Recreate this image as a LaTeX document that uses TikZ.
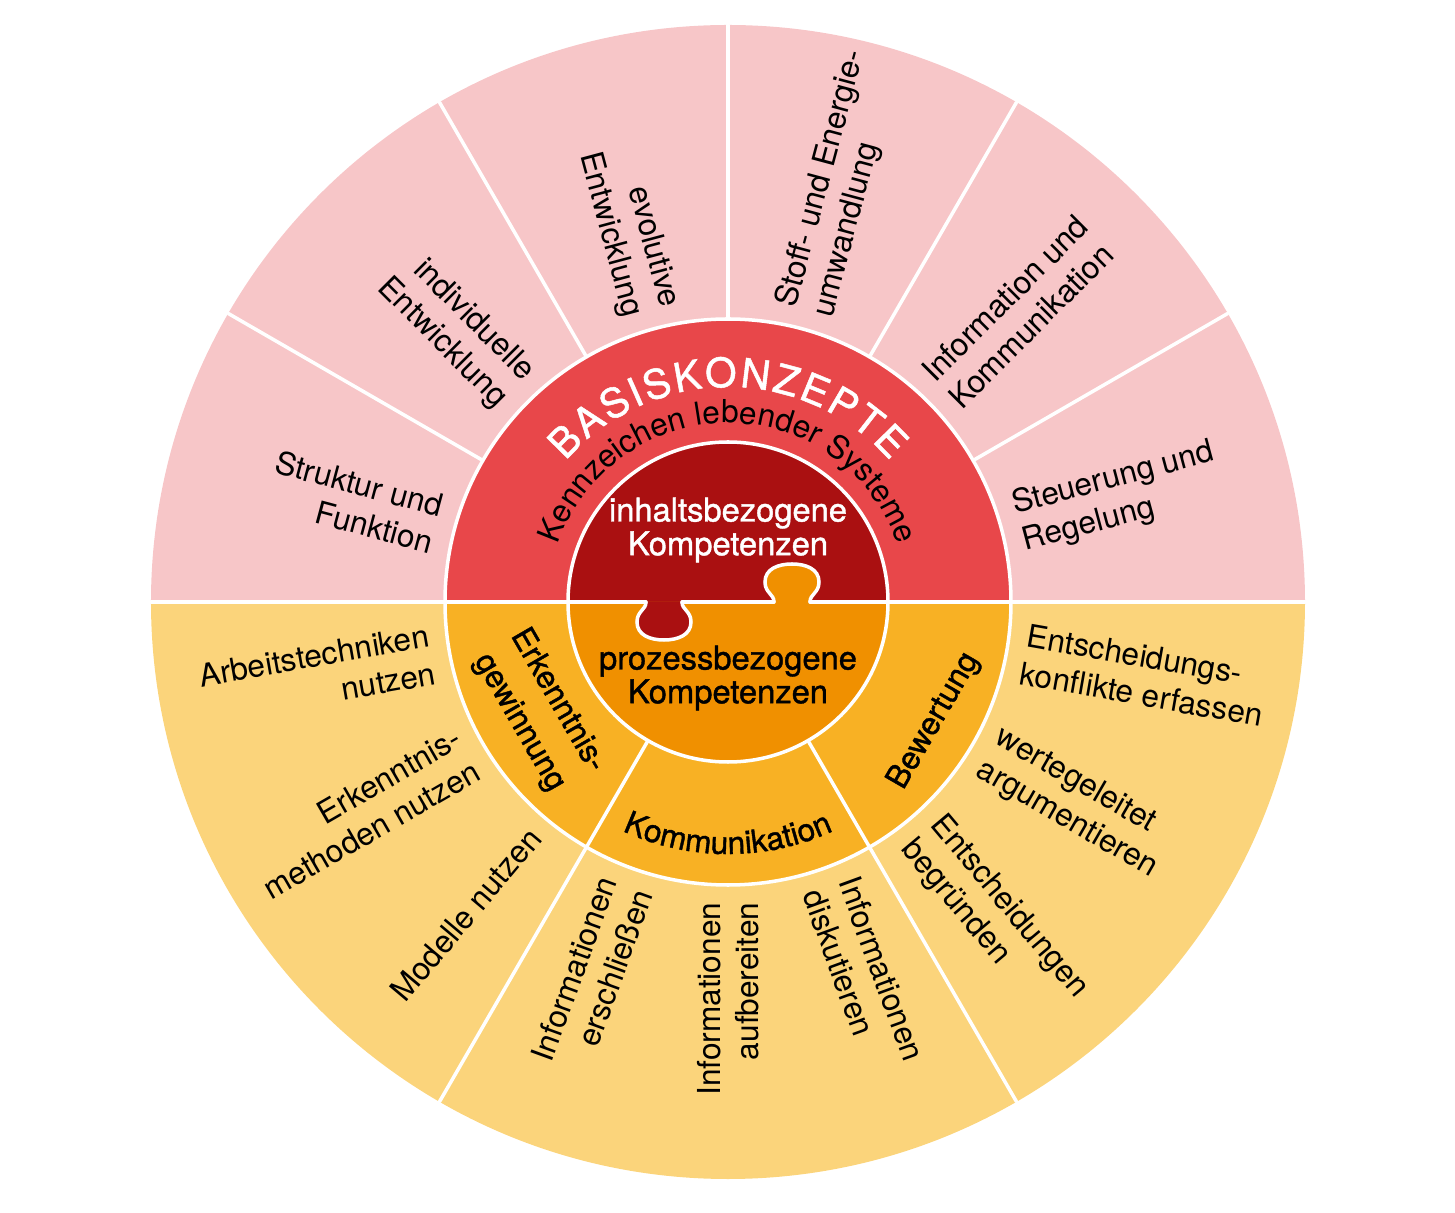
\documentclass[tikz,border=0pt]{standalone}
\usepackage{fontspec}
\setmainfont{TeX Gyre Heros}
\newfontfamily\medfont[FakeBold=1.2]{TeX Gyre Heros}
\usetikzlibrary{decorations.text}

\definecolor{outerred}{HTML}{F7C6C8}
\definecolor{midred}{HTML}{E8474A}
\definecolor{innerred}{HTML}{AA1011}
\definecolor{outeryel}{HTML}{FBD47B}
\definecolor{midyel}{HTML}{F8B124}
\definecolor{inneryel}{HTML}{F09000}

% puzzle tab, pointing down, centred at the origin
\newcommand{\knob}{(-0.18,0) .. controls (-0.18,-0.08) and (-0.27,-0.09) .. (-0.27,-0.2) .. controls (-0.27,-0.33) and (-0.14,-0.38) .. (0,-0.38) .. controls (0.14,-0.38) and (0.27,-0.33) .. (0.27,-0.2) .. controls (0.27,-0.09) and (0.18,-0.08) .. (0.18,0)}

\begin{document}
\begin{tikzpicture}[font=\fontsize{9}{10.8}\selectfont,
    sep/.style={white, line width=1pt, line cap=round},
    lft/.style={anchor=east, align=right, inner sep=0pt, rotate=#1-180},
    rgt/.style={anchor=west, align=left, inner sep=0pt, rotate=#1},
    mid/.style={inner sep=0pt, align=center, font=\fontsize{9}{12.5}\selectfont\medfont},
    core/.style={inner sep=0pt, align=center, font=\fontsize{9.3}{9.6}\selectfont\medfont}]
    \useasboundingbox (-7.28,-6.11) rectangle (7.27,6.02);

    % rings
    \fill[outerred] (5.77,0) arc (0:180:5.77) -- cycle;
    \fill[outeryel] (-5.77,0) arc (180:360:5.77) -- cycle;
    \fill[midred] (2.83,0) arc (0:180:2.83) -- cycle;
    \fill[midyel] (-2.83,0) arc (180:360:2.83) -- cycle;
    \fill[innerred] (1.6,0) arc (0:180:1.6) -- cycle;
    \fill[inneryel] (-1.6,0) arc (180:360:1.6) -- cycle;
    \fill[innerred, shift={(-0.64,0)}] \knob -- cycle;
    \fill[inneryel, shift={(0.64,0)}, yscale=-1] \knob -- cycle;

    % white borders
    \foreach \a in {30,60,...,150}
        \draw[sep] (\a:2.83) -- (\a:5.77);
    \foreach \a in {240,300}
        \draw[sep] (\a:1.6) -- (\a:5.77);
    \draw[sep] (-5.77,0) -- (-0.82,0) (-0.46,0) -- (0.46,0) (0.82,0) -- (5.77,0);
    \draw[sep] (0,0) circle (2.83) (0,0) circle (1.6);
    \draw[sep, shift={(-0.64,0)}] \knob;
    \draw[sep, shift={(0.64,0)}, yscale=-1] \knob;

    % curved titles
    \path[decorate, decoration={text along path, text align=fit to path, text color=white,
        text={|\medfont\fontsize{11.5}{11.5}\selectfont|BASISKONZEPTE}}] (139:2.15) arc (139:41:2.15);
    \path[decorate, decoration={text along path, text align=center,
        text={|\fontsize{9}{9}\selectfont|Kennzeichen lebender Systeme}}] (170:1.79) arc (170:10:1.79);
    \path[decorate, decoration={text along path, text align=center,
        text={|\medfont\fontsize{9}{9}\selectfont|Kommunikation}}] (230:2.52) arc (230:310:2.52);

    \node[core, white] (inhalt) at (0,0.72) {inhaltsbezogene\\Kompetenzen};
    \node[core] (prozess) at (0,-0.76) {prozessbezogene\\Kompetenzen};

    \node[mid, rotate=-60] (erkenntnis) at (210:2.19) {Erkenntnis-\\gewinnung};
    \node[mid, rotate=60] (bewertung) at (330:2.38) {Bewertung};

    % Basiskonzepte
    \node[lft=165] (struktur) at (165:3) {Struktur und\\Funktion};
    \node[lft=135] (individuell) at (135:3) {individuelle\\Entwicklung};
    \node[lft=105] (evolutiv) at (105:3) {evolutive\\Entwicklung};
    \node[rgt=75] (stoff) at (75:3) {Stoff- und Energie-\\umwandlung};
    \node[rgt=45] (information) at (45:3) {Information und\\Kommunikation};
    \node[rgt=15] (steuerung) at (15:3) {Steuerung und\\Regelung};

    % Kompetenzbereiche
    \node[lft=190] (arbeit) at (190:3) {Arbeitstechniken\\nutzen};
    \node[lft=210] (methoden) at (210:3) {Erkenntnis-\\methoden nutzen};
    \node[lft=230] (modelle) at (230:3) {Modelle nutzen};
    \node[lft=250] (erschliessen) at (250:3) {Informationen\\erschließen};
    \node[lft=270] (aufbereiten) at (270:3) {Informationen\\aufbereiten};
    \node[rgt=-70] (diskutieren) at (290:3) {Informationen\\diskutieren};
    \node[rgt=-50] (begruenden) at (310:3) {Entscheidungen\\begründen};
    \node[rgt=-30] (argumentieren) at (330:3) {wertegeleitet\\argumentieren};
    \node[rgt=-10] (konflikte) at (350:3) {Entscheidungs-\\konflikte erfassen};
\end{tikzpicture}
\end{document}
